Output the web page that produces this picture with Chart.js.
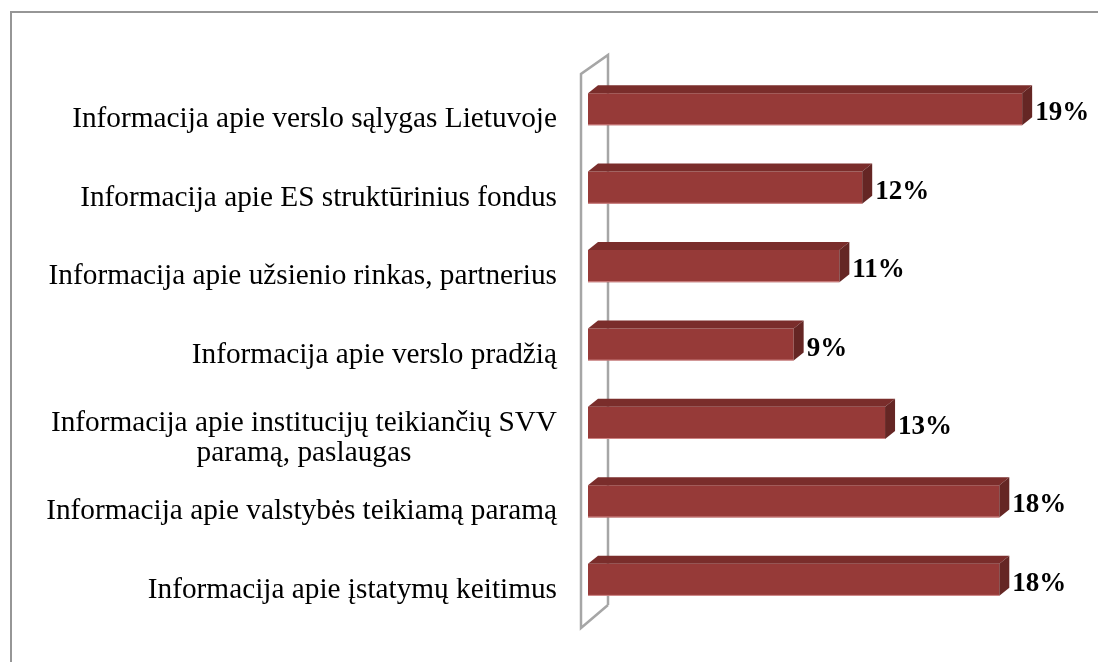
<!DOCTYPE html>
<html>
<head>
<meta charset="utf-8">
<script src="https://cdn.jsdelivr.net/npm/chart.js@4/dist/chart.umd.min.js"></script>
<style>
  html, body { margin: 0; padding: 0; background: #ffffff; }
  #wrap { width: 1098px; height: 662px; position: relative; }
</style>
</head>
<body>
<div id="wrap"><canvas id="c" width="1098" height="662"></canvas></div>
<script>
const categories = [
  ['Informacija apie verslo sąlygas Lietuvoje'],
  ['Informacija apie ES struktūrinius fondus'],
  ['Informacija apie užsienio rinkas, partnerius'],
  ['Informacija apie verslo pradžią'],
  ['Informacija apie institucijų teikiančių SVV', 'paramą, paslaugas'],
  ['Informacija apie valstybės teikiamą paramą'],
  ['Informacija apie įstatymų keitimus']
];
const values = [19, 12, 11, 9, 13, 18, 18];
const valueLabels = ['19%', '12%', '11%', '9%', '13%', '18%', '18%'];

const FRONT = '#963a38';
const TOP = '#7a2d2b';
const SIDE = '#652624';
const DX = 10, DY = 8;

const decor = {
  id: 'decor',
  beforeDraw(chart) {
    const ctx = chart.ctx;
    ctx.save();
    ctx.fillStyle = '#ffffff';
    ctx.fillRect(0, 0, chart.width, chart.height);
    ctx.strokeStyle = '#969696';
    ctx.lineWidth = 2;
    ctx.strokeRect(11, 12, 1200, 800);
    ctx.restore();
  },
  beforeDatasetsDraw(chart) {
    const ctx = chart.ctx;
    const a = chart.chartArea;
    const fx = a.left - 7, bx = a.left + 20;
    const fTop = a.top + 4, fBot = a.bottom + 9;
    const bTop = a.top - 15, bBot = a.bottom - 14;
    ctx.save();
    ctx.strokeStyle = '#a6a6a6';
    ctx.lineWidth = 2.5;
    ctx.lineJoin = 'miter';
    ctx.beginPath();
    ctx.moveTo(bx, bBot);
    ctx.lineTo(bx, bTop);
    ctx.lineTo(fx, fTop);
    ctx.lineTo(fx, fBot);
    ctx.lineTo(bx, bBot);
    ctx.stroke();
    ctx.restore();
  },
  afterDatasetsDraw(chart) {
    const ctx = chart.ctx;
    const meta = chart.getDatasetMeta(0);
    ctx.save();
    meta.data.forEach((bar, i) => {
      const h = bar.height;
      const top = bar.y - h / 2, bot = bar.y + h / 2;
      const x0 = bar.base, x1 = bar.x;
      ctx.fillStyle = TOP;
      ctx.beginPath();
      ctx.moveTo(x0, top);
      ctx.lineTo(x0 + DX, top - DY);
      ctx.lineTo(x1 + DX, top - DY);
      ctx.lineTo(x1, top);
      ctx.closePath();
      ctx.fill();
      ctx.fillStyle = SIDE;
      ctx.beginPath();
      ctx.moveTo(x1, top);
      ctx.lineTo(x1 + DX, top - DY);
      ctx.lineTo(x1 + DX, bot - DY);
      ctx.lineTo(x1, bot);
      ctx.closePath();
      ctx.fill();
      ctx.strokeStyle = 'rgba(220,150,150,0.8)';
      ctx.lineWidth = 1;
      ctx.beginPath();
      ctx.moveTo(x0, bot - 0.5);
      ctx.lineTo(x1, bot - 0.5);
      ctx.stroke();
      ctx.fillStyle = '#000000';
      ctx.font = 'bold 27px "Liberation Serif", "Times New Roman", serif';
      ctx.textAlign = 'left';
      ctx.textBaseline = 'alphabetic';
      ctx.fillText(valueLabels[i], x1 + DX + 3, bar.y + 11);
    });
    ctx.restore();
  },
  afterDraw(chart) {
    const ctx = chart.ctx;
    const y = chart.scales.y;
    const rightX = 557;
    ctx.save();
    ctx.fillStyle = '#000000';
    ctx.font = '29.3px "Liberation Serif", "Times New Roman", serif';
    ctx.textBaseline = 'alphabetic';
    chart.data.labels.forEach((lab, i) => {
      const cy = y.getPixelForValue(i);
      const lines = Array.isArray(lab) ? lab : [lab];
      if (lines.length === 1) {
        ctx.textAlign = 'right';
        ctx.fillText(lines[0], rightX, cy + 18);
      } else {
        const lh = 30;
        const w = Math.max(...lines.map(l => ctx.measureText(l).width));
        const cx = rightX - w / 2;
        ctx.textAlign = 'center';
        lines.forEach((l, k) => ctx.fillText(l, cx, cy + 8 + k * lh));
      }
    });
    ctx.restore();
  }
};

new Chart(document.getElementById('c'), {
  type: 'bar',
  data: {
    labels: categories,
    datasets: [{
      data: values,
      backgroundColor: FRONT,
      borderWidth: 0,
      categoryPercentage: 1,
      barPercentage: 0.41
    }]
  },
  options: {
    indexAxis: 'y',
    responsive: false,
    animation: false,
    layout: { padding: { left: 588, right: 53, top: 70, bottom: 43 } },
    plugins: { legend: { display: false }, tooltip: { enabled: false } },
    scales: {
      x: { display: false, min: 0, max: 20 },
      y: { display: false }
    }
  },
  plugins: [decor]
});
</script>
</body>
</html>
